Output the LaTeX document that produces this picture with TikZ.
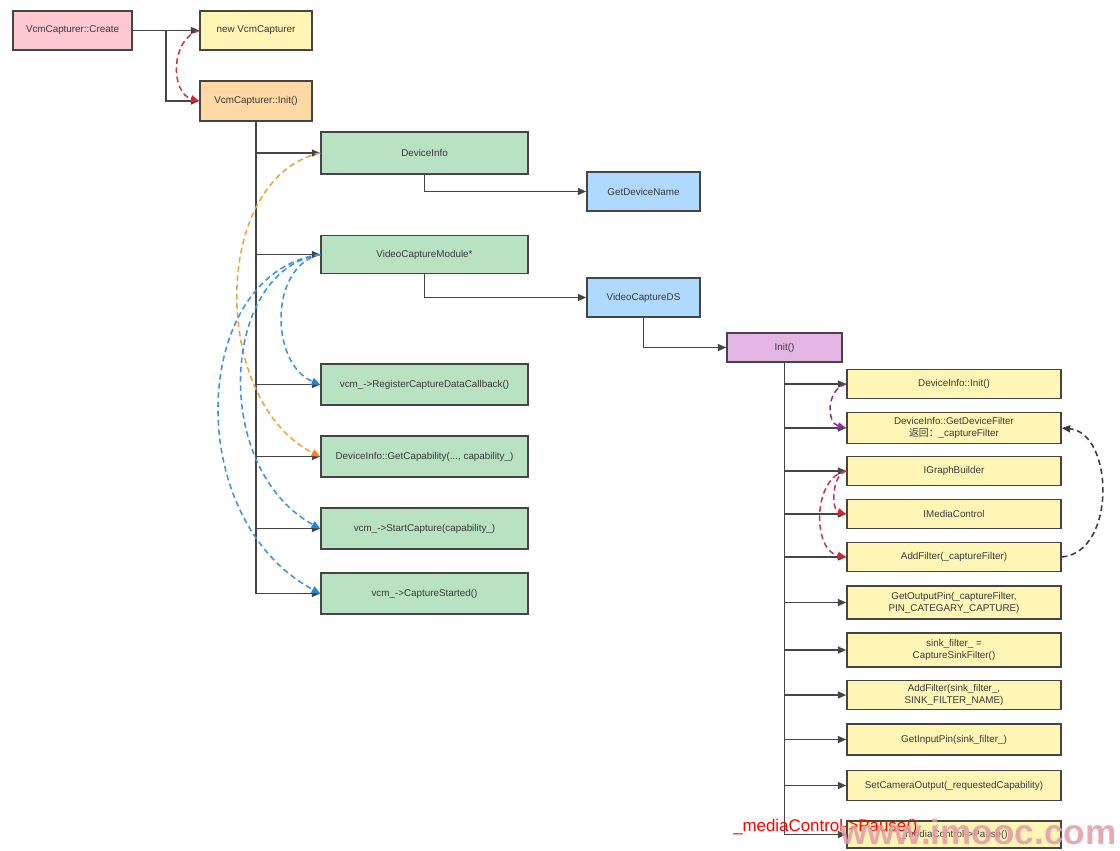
\documentclass[tikz,border=0pt]{standalone}
\usepackage{fontspec}
\setmainfont{Liberation Sans}
\newfontfamily\cjk{Noto Sans CJK SC}
\usetikzlibrary{arrows.meta}
\usetikzlibrary{positioning}

\definecolor{boxline}{HTML}{454545}
\definecolor{txt}{HTML}{3A3A3A}
\definecolor{pinkfill}{HTML}{FFC9D1}
\definecolor{yellowfill}{HTML}{FFF5B5}
\definecolor{orangefill}{HTML}{FFD8A3}
\definecolor{greenfill}{HTML}{B8E2C2}
\definecolor{bluefill}{HTML}{AFD9FF}
\definecolor{purplefill}{HTML}{E5B5E5}
\definecolor{redline}{HTML}{C43A48}
\definecolor{redtip}{HTML}{E0202A}
\definecolor{orangeline}{HTML}{EFA23A}
\definecolor{orangetip}{HTML}{F5841F}
\definecolor{blueline}{HTML}{3D91DD}
\definecolor{bluetip}{HTML}{1E86E6}
\definecolor{purpleline}{HTML}{8E2E9C}
\definecolor{darkline}{HTML}{3A3A3A}
\definecolor{wmpink}{HTML}{E39AA6}

\begin{document}
\begin{tikzpicture}[x=0.025cm, y=-0.025cm,
    box/.style 2 args={draw=boxline, line width=1.1pt, text=txt,
        font=\fontsize{7}{8.5}\selectfont, align=center, inner sep=0pt,
        minimum width=#1*0.025cm, minimum height=#2*0.025cm},
    greenbox/.style={box={207}{#1}, fill=greenfill},
    bluebox/.style={box={113}{39}, fill=bluefill},
    stepbox/.style={box={214}{#1}, fill=yellowfill},
    link/.style={draw=boxline, line width=1.1pt,
        -{Triangle[length=6pt,width=5pt]}},
    hop/.style 2 args={draw=#1, line width=1.1pt, dash pattern=on 4pt off 2.6pt,
        -{Triangle[length=6pt,width=5pt,color=#2]}}]
\useasboundingbox (0,0) rectangle (1120,850);

% top of the call chain
\node[box={119}{39}, fill=pinkfill] (create) at (72.5,30.5) {VcmCapturer::Create};
\node[box={112}{39}, fill=yellowfill] (new) at (256,30.5) {new VcmCapturer};
\node[box={112}{40}, fill=orangefill] (vinit) at (256,101) {VcmCapturer::Init()};

% steps of VcmCapturer::Init()
\node[greenbox=42] (devinfo) at (424.5,153) {DeviceInfo};
\node[greenbox=38] (vcm) at (424.5,254.5) {VideoCaptureModule*};
\node[greenbox=41] (regcb) at (424.5,384.5) {vcm\_->RegisterCaptureDataCallback()};
\node[greenbox=41] (getcap) at (424.5,456.5) {DeviceInfo::GetCapability(..., capability\_)};
\node[greenbox=41] (startcap) at (424.5,528.5) {vcm\_->StartCapture(capability\_)};
\node[greenbox=41] (capstarted) at (424.5,593.5) {vcm\_->CaptureStarted()};

\node[bluebox] (devname) at (643.5,191.5) {GetDeviceName};
\node[bluebox] (capds) at (643.5,297.5) {VideoCaptureDS};
\node[box={115}{29}, fill=purplefill] (dsinit) at (784.5,347.5) {Init()};

% steps of VideoCaptureDS::Init()
\node[stepbox=29] (diinit) at (954,384) {DeviceInfo::Init()};
\node[stepbox=31] (difilter) at (954,428) {DeviceInfo::GetDeviceFilter\\{\cjk 返回：}\_captureFilter};
\node[stepbox=29] (graph) at (954,471) {IGraphBuilder};
\node[stepbox=29] (mctrl) at (954,514) {IMediaControl};
\node[stepbox=29] (addcap) at (954,557) {AddFilter(\_captureFilter)};
\node[stepbox=33] (outpin) at (954,602.5) {GetOutputPin(\_captureFilter,\\PIN\_CATEGARY\_CAPTURE)};
\node[stepbox=34] (sink) at (954,650) {sink\_filter\_ =\\CaptureSinkFilter()};
\node[stepbox=29] (addsink) at (954,695) {AddFilter(sink\_filter\_,\\SINK\_FILTER\_NAME)};
\node[stepbox=31] (inpin) at (954,739.5) {GetInputPin(sink\_filter\_)};
\node[stepbox=30] (camout) at (954,785.5) {SetCameraOutput(\_requestedCapability)};
\node[stepbox=27] (pause) at (954,834.5) {\_mediaControl->Pause()};

% solid connectors
\coordinate (split) at (166,30.5);
\draw[link] (create.east) -- (new.west);
\draw[link] (split) |- (vinit.west);
\foreach \n in {devinfo,vcm,regcb,getcap,startcap,capstarted}
    \draw[link] (vinit.south) |- (\n.west);
\draw[link] (devinfo.south) |- (devname.west);
\draw[link] (vcm.south) |- (capds.west);
\draw[link] (capds.south) |- (dsinit.west);
\foreach \n in {diinit,difilter,graph,mctrl,addcap,outpin,sink,addsink,inpin,camout,pause}
    \draw[link] (dsinit.south) |- (\n.west);

% dashed order hints
\draw[hop={redline}{redtip}] (new.west) .. controls +(-29,8) and +(-29,-8) .. (vinit.west);
\draw[hop={orangeline}{orangetip}] (devinfo.west) .. controls +(-110,25) and +(-110,-55) .. (getcap.west);
\draw[hop={blueline}{bluetip}] (vcm.west) .. controls +(-52,12) and +(-50,-20) .. (regcb.west);
\draw[hop={blueline}{bluetip}] (vcm.west) .. controls +(-100,15) and +(-110,-60) .. (startcap.west);
\draw[hop={blueline}{bluetip}] (vcm.west) .. controls +(-130,18) and +(-140,-75) .. (capstarted.west);
\draw[hop={purpleline}{purpleline}] (diinit.west) .. controls +(-20,5) and +(-20,-5) .. (difilter.west);
\draw[hop={redline}{redtip}] (graph.west) .. controls +(-15,4) and +(-15,-4) .. (mctrl.west);
\draw[hop={redline}{redtip}] (graph.west) .. controls +(-34,6) and +(-34,-6) .. (addcap.west);
\draw[hop={darkline}{darkline}] (addcap.east) .. controls +(55,-5) and +(52,5) .. (difilter.east);

% caption and watermark over the last step
\node[text=red, font=\fontsize{12}{12}\selectfont, anchor=west, inner sep=0pt] (pausenote) at (733,827) {\_mediaControl->Pause()};
\node[text=wmpink, opacity=0.85, font=\fontsize{25}{25}\selectfont\bfseries, anchor=west, inner sep=0pt] (mark) at (840,832) {www.imooc.com};
\end{tikzpicture}
\end{document}
